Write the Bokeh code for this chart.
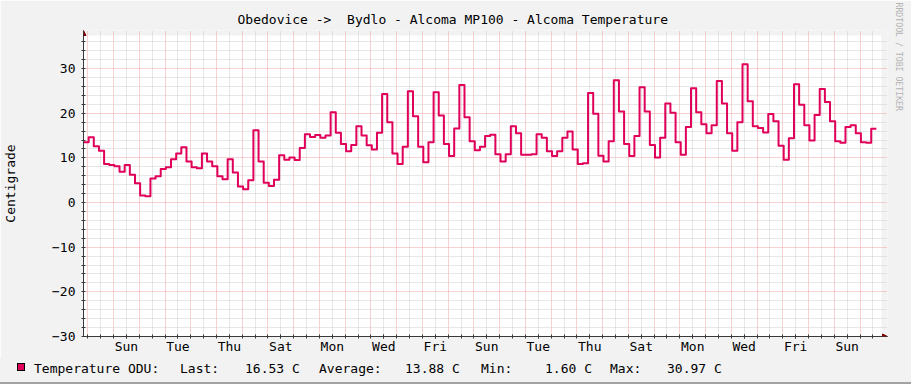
import math
from bokeh.plotting import figure
from bokeh.layouts import column
from bokeh.models import (Range1d, FixedTicker, Grid, LinearAxis, Arrow, NormalHead,
                          BoxAnnotation, Title, Div)
from bokeh.embed import file_html
from bokeh.resources import INLINE

# ---------------- data ----------------
title_text = "Obedovice ->  Bydlo - Alcoma MP100 - Alcoma Temperature"
y_axis_label = "Centigrade"
series_label = "Temperature ODU:"
watermark = "RRDTOOL / TOBI OETIKER"

window_hours = 744          # 31 days shown
step_hours = 4.8            # consolidation step of the series
first_midnight = 4          # hour of the first midnight after the window start
label_days = ["Sun", "Tue", "Thu", "Sat", "Mon", "Wed", "Fri",
              "Sun", "Tue", "Thu", "Sat", "Mon", "Wed", "Fri", "Sun"]

temperature = [
    13.5, 14.6, 12.6, 11.6, 8.6, 8.4, 8.1, 6.9, 8.4, 6.2,
    4.3, 1.60, 1.4, 5.4, 5.9, 7.5, 7.9, 9.7, 11.0, 12.4,
    9.2, 7.9, 7.7, 11.0, 9.2, 8.1, 5.9, 5.2, 9.7, 6.7,
    3.6, 3.0, 5.0, 16.2, 9.2, 4.4, 3.7, 5.1, 10.6, 9.6,
    10.1, 9.5, 12.2, 15.3, 14.7, 15.1, 14.5, 15.0, 20.2, 15.6,
    13.1, 11.5, 12.9, 17.1, 15.0, 12.8, 11.9, 15.6, 24.3, 18.0,
    11.0, 8.6, 12.5, 24.9, 19.3, 12.5, 9.0, 13.5, 24.7, 19.5,
    13.1, 10.4, 16.6, 26.3, 19.1, 13.7, 11.7, 12.5, 14.9, 15.2,
    10.8, 9.2, 10.8, 17.1, 15.5, 10.7, 10.7, 10.8, 15.3, 14.5,
    11.5, 10.4, 11.5, 14.5, 15.9, 11.9, 8.6, 8.8, 24.5, 19.9,
    10.5, 9.2, 13.7, 27.4, 20.4, 13.1, 10.4, 14.9, 25.8, 20.4,
    12.9, 10.1, 14.5, 22.2, 20.1, 13.5, 10.7, 16.9, 25.6, 20.2,
    17.5, 15.5, 17.3, 27.2, 22.2, 15.5, 11.6, 18.0, 30.97, 22.7,
    17.1, 16.7, 15.7, 19.8, 18.2, 12.7, 9.6, 14.4, 26.5, 21.9,
    17.3, 13.9, 19.6, 25.4, 22.5, 18.2, 13.7, 13.4, 16.9, 17.3,
    15.5, 13.5, 13.4, 16.53,
]

stat_names = ["Last:", "Average:", "Min:", "Max:"]
stat_values = [16.53, 13.88, 1.60, 30.97]
unit = "C"

y_min, y_max = -30, 37.4
y_major = list(range(-30, 31, 10))
y_minor = [v for v in range(-30, 37, 2) if v % 10]

# ---------------- derived ----------------
hours = [i * step_hours for i in range(len(temperature))]
xs = hours + [len(temperature) * step_hours]
ys = temperature + [temperature[-1]]

day_starts = list(range(first_midnight, window_hours, 24))
noons = [d + 12 for d in day_starts]
label_ticks = [noons[k] for k in range(1, 1 + 2 * len(label_days), 2)]
overrides = {t: n for t, n in zip(label_ticks, label_days)}

MONO = "DejaVu Sans Mono"
LINE_COLOR = "#E0005A"
AXIS_COLOR = "#3A3A3A"
ARROW_COLOR = "#7F0000"
MGRID = "#F0A4A4"
GRID = "#CFCFCF"
BACK = "#F2F2F2"

# frame: plot area 81..881 x 35..336 plus a few pixels for the axis arrows
PX_PER_HOUR = 800 / window_hours
PX_PER_DEG = 301 / (y_max - y_min)
x_end = window_hours + 6 / PX_PER_HOUR
y_end = y_max + 5 / PX_PER_DEG

p = figure(width=911, height=358, x_range=Range1d(0, x_end),
           y_range=Range1d(y_min, y_end), output_backend="svg",
           toolbar_location=None, x_axis_type=None, y_axis_type=None,
           min_border_left=81, min_border_right=24, min_border_top=30,
           min_border_bottom=22, background_fill_color=BACK,
           border_fill_color=BACK, outline_line_color=None)

p.title.text = title_text.replace("  ", " \u00a0")
p.title.text_font = MONO
p.title.text_font_size = "13px"
p.title.text_font_style = "normal"
p.title.text_color = "black"
p.title.align = "left"
p.title.offset = 154
p.title.vertical_align = "top"
p.title.standoff = 4

# white canvas of the chart
p.add_layout(BoxAnnotation(left=0, right=window_hours, bottom=y_min, top=y_max,
                           fill_color="white", fill_alpha=1, line_color=None,
                           level="underlay"))

# grids
gx = Grid(dimension=0, ticker=FixedTicker(ticks=day_starts, minor_ticks=noons),
          grid_line_color=MGRID, grid_line_dash="1 1",
          minor_grid_line_color=GRID, minor_grid_line_dash="1 1")
gy = Grid(dimension=1, ticker=FixedTicker(ticks=y_major, minor_ticks=y_minor),
          grid_line_color=MGRID, grid_line_dash="1 1",
          minor_grid_line_color=GRID, minor_grid_line_dash="1 1")
p.add_layout(gx)
p.add_layout(gy)

# axes
xaxis = LinearAxis(ticker=FixedTicker(ticks=label_ticks, minor_ticks=day_starts + noons),
                   major_label_overrides=overrides)
yaxis = LinearAxis(ticker=FixedTicker(ticks=y_major, minor_ticks=y_minor),
                   axis_label=y_axis_label)
for ax in (xaxis, yaxis):
    ax.axis_line_color = AXIS_COLOR
    ax.major_tick_line_color = AXIS_COLOR
    ax.minor_tick_line_color = AXIS_COLOR
    ax.major_tick_in = 2
    ax.major_tick_out = 2
    ax.minor_tick_in = 2
    ax.minor_tick_out = 2
    ax.major_label_text_font = MONO
    ax.major_label_text_font_size = "13px"
    ax.major_label_text_color = "black"
xaxis.major_label_standoff = 0
yaxis.major_label_standoff = 6
yaxis.axis_label_text_font = MONO
yaxis.axis_label_text_font_size = "13px"
yaxis.axis_label_text_font_style = "normal"
yaxis.axis_label_text_color = "black"
yaxis.axis_label_standoff = 31
p.add_layout(xaxis, "below")
p.add_layout(yaxis, "left")

# watermark on the right edge
p.add_layout(Title(text=watermark, text_font=MONO, text_font_size="8.2px",
                   text_font_style="normal", text_color="#B4B4B4",
                   align="left", offset=-28, standoff=12), "right")

# axis arrows
p.add_layout(Arrow(x_start=0, y_start=y_max, x_end=0, y_end=y_end,
                   line_color=AXIS_COLOR, line_width=1,
                   end=NormalHead(size=5, fill_color=ARROW_COLOR, line_color=ARROW_COLOR)))
p.add_layout(Arrow(x_start=window_hours, y_start=y_min, x_end=x_end, y_end=y_min,
                   line_color=AXIS_COLOR, line_width=1,
                   end=NormalHead(size=5, fill_color=ARROW_COLOR, line_color=ARROW_COLOR)))

# series
p.step(x=xs, y=ys, mode="after", line_color=LINE_COLOR, line_width=2, line_join="round")

# ---------------- legend strip ----------------
texts = [series_label]
for name, v in zip(stat_names, stat_values):
    texts += [name, f"{v:.2f} {unit}"]
text_x = [34, 180, 245, 319, 405, 481, 545, 610, 667]

parts = [f'<span style="position:absolute;left:17px;top:5px;width:8px;height:8px;'
         f'background:{LINE_COLOR};border:1px solid black;"></span>']
for t, x in zip(texts, text_x):
    parts.append(f'<span style="position:absolute;left:{x}px;top:4px;line-height:13px;'
                 f'white-space:pre;">{t}</span>')
parts.append('<span style="position:absolute;left:0;top:24px;width:911px;height:2px;'
             'background:#A3A3A3;"></span>')
html = (f'<div style="position:relative;width:911px;height:26px;background:{BACK};'
        f'font-family:\'{MONO}\';font-size:13px;color:black;overflow:hidden;">'
        + "".join(parts) + "</div>")
legend_strip = Div(text=html, width=911, height=26, margin=(0, 0, 0, 0))

layout = column(p, legend_strip, spacing=0)
open("out.html", "w").write(file_html(layout, INLINE))
